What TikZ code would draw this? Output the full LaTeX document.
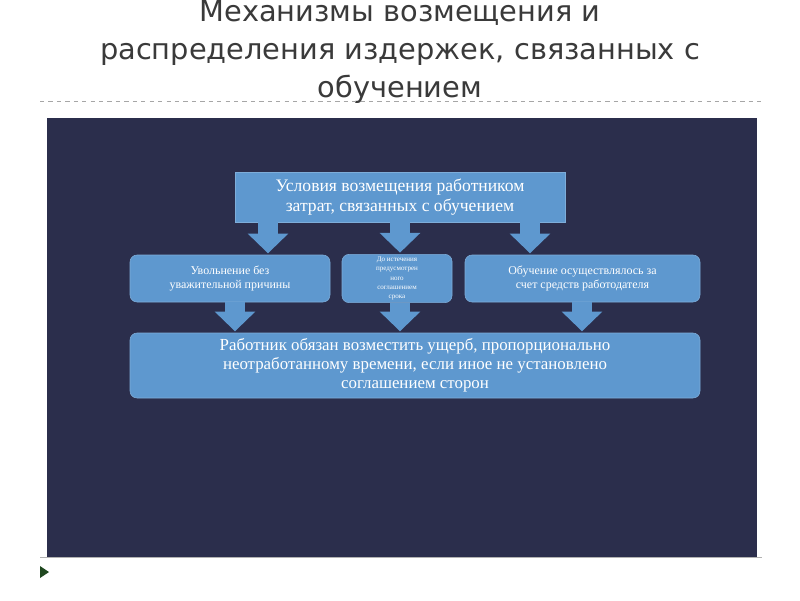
\documentclass[tikz,border=0pt]{standalone}
\usepackage{fontspec}
\setmainfont{Liberation Serif}
\newfontfamily\titlefont{DejaVu Sans}
\usetikzlibrary{arrows.meta}
\definecolor{panel}{HTML}{2B2E4C}
\definecolor{boxblue}{HTML}{5E98CF}
\definecolor{titlegray}{HTML}{3A3A3A}
\tikzset{
  box/.style={rectangle, fill=boxblue, draw=boxblue!80!white, text=white, align=center, inner sep=2pt},
  roundbox/.style={box, rounded corners=5pt},
  blockarrow/.style={draw=boxblue, line width=14pt, -{Triangle[length=14pt,width=28pt]}, shorten >=1pt},
  sepline/.style={draw=gray!70, dashed, line width=0.6pt}
}
\begin{document}
\begin{tikzpicture}[x=0.025cm, y=-0.025cm]
    \useasboundingbox (0,0) rectangle (800,600);
    \fill[white] (0,0) rectangle (800,600);
    % Title
    \node[text=titlegray, align=center, font=\titlefont\fontsize{20.5}{27}\selectfont] (title) at (400,52)
      {Механизмы возмещения и\\распределения издержек, связанных с\\обучением};
    \draw[sepline] (40,101) -- (762,101);
    % Panel
    \fill[panel] (47,118) rectangle (757,557);
    \draw[gray!60, line width=0.5pt] (40,557) -- (762,557);
    \fill[gray!60!green!40!black] (40,566) -- (49,572) -- (40,578) -- cycle;
    % Place nodes
    \node[box, minimum width=330*0.025cm, minimum height=50*0.025cm, font=\fontsize{12.5}{14}\selectfont] (cond) at (400,197)
      {Условия возмещения работником\\затрат, связанных с обучением};
    \node[roundbox, minimum width=200*0.025cm, minimum height=47*0.025cm, font=\fontsize{8.5}{10.5}\selectfont] (dismiss) at (230,278.5)
      {Увольнение без\\уважительной причины};
    \node[roundbox, minimum width=110*0.025cm, minimum height=47*0.025cm, font=\fontsize{5}{6.5}\selectfont] (term) at (397,278.5)
      {До истечения\\предусмотрен\\ного\\соглашением\\срока};
    \node[roundbox, minimum width=235*0.025cm, minimum height=47*0.025cm, font=\fontsize{8.5}{10.5}\selectfont] (paid) at (582.5,278.5)
      {Обучение осуществлялось за\\счет средств работодателя};
    \node[roundbox, minimum width=570*0.025cm, minimum height=65*0.025cm, font=\fontsize{12}{13.5}\selectfont] (duty) at (415,365.5)
      {Работник обязан возместить ущерб, пропорционально\\неотработанному времени, если иное не установлено\\соглашением сторон};
    % Draw edges
    \draw[blockarrow] (cond.south -| 268,0) -- (dismiss.north -| 268,0);
    \draw[blockarrow] (cond.south -| 400,0) -- (term.north -| 400,0);
    \draw[blockarrow] (cond.south -| 530,0) -- (paid.north -| 530,0);
    \draw[blockarrow] (dismiss.south -| 235,0) -- (duty.north -| 235,0);
    \draw[blockarrow] (term.south -| 400,0) -- (duty.north -| 400,0);
    \draw[blockarrow] (paid.south -| 582,0) -- (duty.north -| 582,0);
\end{tikzpicture}
\end{document}
